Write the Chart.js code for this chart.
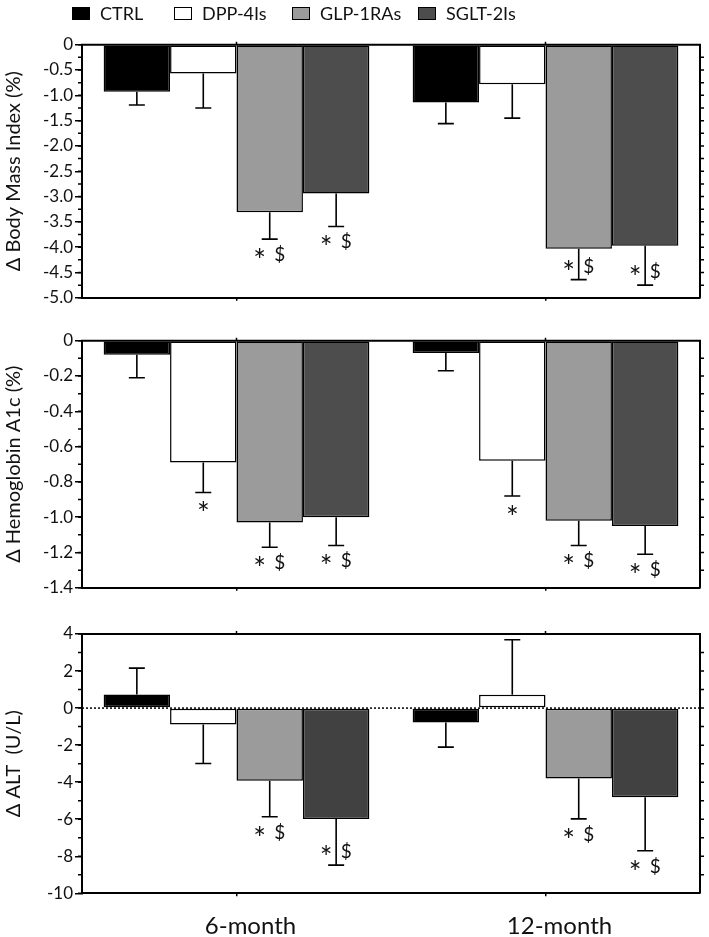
<!DOCTYPE html>
<html>
<head>
<meta charset="utf-8">
<script src="https://cdn.jsdelivr.net/npm/chart.js@4.4.0/dist/chart.umd.min.js"></script>
<style>
  body { margin: 0; background: #fff; width: 709px; height: 937px; position: relative; overflow: hidden; font-family: Lato, sans-serif; }
  canvas { position: absolute; left: 0; }
  #legend { position: absolute; top: 0; left: 0; width: 709px; height: 30px; z-index: 2; }
  .item { position: absolute; top: 3px; display: flex; align-items: center; font-size: 18px; color: #111; line-height: 20px; }
  .box { box-sizing: border-box; width: 18px; height: 13px; border: 1.5px solid #000; margin-right: 10px; }
</style>
</head>
<body>
<div id="legend"></div>
<canvas id="c1" width="709" height="310" style="top:0"></canvas>
<canvas id="c2" width="709" height="290" style="top:310px"></canvas>
<canvas id="c3" width="709" height="337" style="top:600px"></canvas>
<script>
// Categorías y grupos
const periods = ['6-month', '12-month'];
const groups = ['CTRL', 'DPP-4Is', 'GLP-1RAs', 'SGLT-2Is'];

// Δ Body Mass Index (%) - media y desviación (6m, 12m)
const bmiCtrl = [-0.93, -1.14];
const bmiDpp = [-0.57, -0.78];
const bmiGlp = [-3.31, -4.03];
const bmiSglt = [-2.94, -3.97];
const bmiCtrlErr = [0.26, 0.42];
const bmiDppErr = [0.68, 0.67];
const bmiGlpErr = [0.53, 0.61];
const bmiSgltErr = [0.65, 0.78];
const bmiTicks = [0, -0.5, -1.0, -1.5, -2.0, -2.5, -3.0, -3.5, -4.0, -4.5, -5.0];

// Δ Hemoglobin A1c (%)
const hbCtrl = [-0.08, -0.07];
const hbDpp = [-0.69, -0.68];
const hbGlp = [-1.03, -1.02];
const hbSglt = [-1.00, -1.05];
const hbCtrlErr = [0.13, 0.10];
const hbDppErr = [0.17, 0.20];
const hbGlpErr = [0.14, 0.14];
const hbSgltErr = [0.16, 0.16];
const hbTicks = [0, -0.2, -0.4, -0.6, -0.8, -1.0, -1.2, -1.4];

// Δ ALT (U/L)
const altCtrl = [0.74, -0.78];
const altDpp = [-0.88, 0.72];
const altGlp = [-3.93, -3.80];
const altSglt = [-5.99, -4.82];
const altCtrlErr = [1.42, 1.33];
const altDppErr = [2.11, 2.97];
const altGlpErr = [1.94, 2.18];
const altSgltErr = [2.49, 2.88];
const altTicks = [4, 2, 0, -2, -4, -6, -8, -10];

// Marcas de significancia
const bmiNotes = [['', ''], ['', ''], ['* $', '* $'], ['* $', '* $']];
const hbNotes = [['', ''], ['*', '*'], ['* $', '* $'], ['* $', '* $']];
const altNotes = [['', ''], ['', ''], ['* $', '* $'], ['* $', '* $']];

// Colores
const colors = ['#000000', '#ffffff', '#9b9b9b', '#4d4d4d'];
const colorsAlt = ['#000000', '#ffffff', '#9b9b9b', '#414141'];

// Leyenda en HTML (posiciones como en la figura)
const legendLeft = [72, 174, 292, 418];
const legendDiv = document.getElementById('legend');
groups.forEach((g, i) => {
  const item = document.createElement('div');
  item.className = 'item';
  item.style.left = legendLeft[i] + 'px';
  item.innerHTML = `<span class="box" style="background:${colors[i]}"></span><span>${g}</span>`;
  legendDiv.appendChild(item);
});

// Dibuja "*" o "$" centrado verticalmente en ty
function drawMark(ctx, t, x, ty) {
  ctx.textAlign = 'center';
  ctx.textBaseline = 'alphabetic';
  if (t === '*') {
    ctx.font = '30px Lato';
    ctx.fillText(t, x, ty + 17);
  } else {
    ctx.font = '19px Lato';
    ctx.fillText(t, x, ty + 7);
  }
}

// Plugin para barras de error, marco y anotaciones
function makeDeco(cfg) {
  return {
    id: 'deco',
    beforeDatasetsDraw(chart) {
      if (!cfg.zeroLine) return;
      const { ctx, chartArea: a, scales: { y } } = chart;
      const y0 = y.getPixelForValue(0);
      ctx.save();
      ctx.setLineDash([2, 2]);
      ctx.lineWidth = 1.5;
      ctx.strokeStyle = '#000';
      ctx.beginPath();
      ctx.moveTo(a.left, y0);
      ctx.lineTo(a.right, y0);
      ctx.stroke();
      ctx.restore();
    },
    afterDatasetsDraw(chart) {
      const { ctx, scales: { y } } = chart;
      ctx.save();
      ctx.strokeStyle = '#000';
      ctx.lineWidth = 1.6;
      ctx.fillStyle = '#111';
      cfg.means.forEach((mean, i) => {
        const meta = chart.getDatasetMeta(i);
        meta.data.forEach((bar, j) => {
          const m = mean[j];
          const dir = m >= 0 ? 1 : -1;
          const yBar = y.getPixelForValue(m);
          const yEnd = y.getPixelForValue(m + dir * cfg.errs[i][j]);
          ctx.beginPath();
          ctx.moveTo(bar.x, yBar);
          ctx.lineTo(bar.x, yEnd);
          ctx.moveTo(bar.x - 8, yEnd);
          ctx.lineTo(bar.x + 8, yEnd);
          ctx.stroke();

          const note = cfg.notes[i][j];
          if (!note) return;
          const beside = cfg.beside.some(([a, b]) => a === i && b === j);
          const ty = beside ? yEnd - 14 : yEnd + 15;
          const tokens = note.split(' ');
          const xs = tokens.length === 1 ? [bar.x] : [bar.x - 10, bar.x + 10];
          tokens.forEach((t, k) => drawMark(ctx, t, xs[k], ty));
        });
      });
      ctx.restore();
    },
    afterDraw(chart) {
      const { ctx, chartArea: a, scales: { x, y } } = chart;
      ctx.save();
      ctx.strokeStyle = '#000';
      // marco superior y eje derecho
      ctx.lineWidth = 2;
      ctx.beginPath();
      ctx.moveTo(a.left - 1, a.top);
      ctx.lineTo(a.right + 1, a.top);
      ctx.moveTo(a.right, a.top);
      ctx.lineTo(a.right, a.bottom);
      ctx.stroke();
      // ticks menores
      ctx.lineWidth = 1.5;
      const n = Math.round((cfg.max - cfg.min) / cfg.minor);
      ctx.beginPath();
      for (let k = 0; k <= n; k++) {
        const v = cfg.min + k * cfg.minor;
        const py = y.getPixelForValue(v);
        if (k > 0 && k < n) {
          ctx.moveTo(a.right, py);
          ctx.lineTo(a.right + 4, py);
        }
        ctx.moveTo(a.left - 4, py);
        ctx.lineTo(a.left, py);
      }
      // tick superior en el centro de cada categoría
      periods.forEach((p, j) => {
        const px = x.getPixelForValue(j);
        ctx.moveTo(px, a.top);
        ctx.lineTo(px, a.top - 3);
      });
      ctx.stroke();
      ctx.restore();
    }
  };
}

function makePanel(id, cfg) {
  return new Chart(document.getElementById(id), {
    type: 'bar',
    data: {
      labels: periods,
      datasets: cfg.means.map((m, i) => ({
        label: groups[i],
        data: m,
        backgroundColor: cfg.colors[i],
        borderColor: '#000',
        borderWidth: 1.5,
        borderSkipped: false,
        categoryPercentage: 0.86,
        barPercentage: 1
      }))
    },
    options: {
      responsive: false,
      devicePixelRatio: 1,
      animation: false,
      layout: { padding: { top: cfg.top, right: 9, left: 0, bottom: 0 } },
      plugins: { legend: { display: false }, tooltip: { enabled: false } },
      scales: {
        x: {
          offset: true,
          afterFit: s => { s.height = cfg.xHeight; },
          grid: { drawOnChartArea: false, offset: false, tickLength: 3, color: '#000', lineWidth: 1.5 },
          border: { display: true, color: '#000', width: 2 },
          ticks: { display: cfg.showX, font: { family: 'Lato', size: 24 }, color: '#111', padding: 16, labelOffset: 14 }
        },
        y: {
          min: cfg.min,
          max: cfg.max,
          afterBuildTicks: s => { s.ticks = cfg.ticks.map(v => ({ value: v })); },
          afterFit: s => { s.width = 82; },
          ticks: { callback: v => cfg.fmt(v), font: { family: 'Lato', size: 17 }, color: '#111', padding: 2 },
          grid: { drawOnChartArea: false, drawTicks: true, tickLength: 7, color: '#000', lineWidth: 1.5 },
          border: { display: true, color: '#000', width: 2 },
          title: { display: true, text: cfg.title, font: { family: 'Lato', size: 20 }, color: '#111', padding: { top: 2, bottom: 0 } }
        }
      }
    },
    plugins: [makeDeco(cfg)]
  });
}

const fmt1 = v => (v === 0 ? '0' : v.toFixed(1));

makePanel('c1', {
  title: 'Δ Body Mass Index (%)',
  means: [bmiCtrl, bmiDpp, bmiGlp, bmiSglt],
  errs: [bmiCtrlErr, bmiDppErr, bmiGlpErr, bmiSgltErr],
  notes: bmiNotes,
  beside: [[2, 1], [3, 1]],
  colors: colors,
  min: -5, max: 0, minor: 0.25, ticks: bmiTicks, fmt: fmt1,
  top: 44.7, xHeight: 12, showX: false, zeroLine: false
});

makePanel('c2', {
  title: 'Δ Hemoglobin A1c (%)',
  means: [hbCtrl, hbDpp, hbGlp, hbSglt],
  errs: [hbCtrlErr, hbDppErr, hbGlpErr, hbSgltErr],
  notes: hbNotes,
  beside: [],
  colors: colors,
  min: -1.4, max: 0, minor: 0.1, ticks: hbTicks, fmt: fmt1,
  top: 30.7, xHeight: 6.7, showX: false, zeroLine: false
});

makePanel('c3', {
  title: 'Δ ALT  (U/L)',
  means: [altCtrl, altDpp, altGlp, altSglt],
  errs: [altCtrlErr, altDppErr, altGlpErr, altSgltErr],
  notes: altNotes,
  beside: [[3, 0]],
  colors: colorsAlt,
  min: -10, max: 4, minor: 1, ticks: altTicks, fmt: v => String(v),
  top: 34, xHeight: 43.7, showX: true, zeroLine: true
});
</script>
</body>
</html>
